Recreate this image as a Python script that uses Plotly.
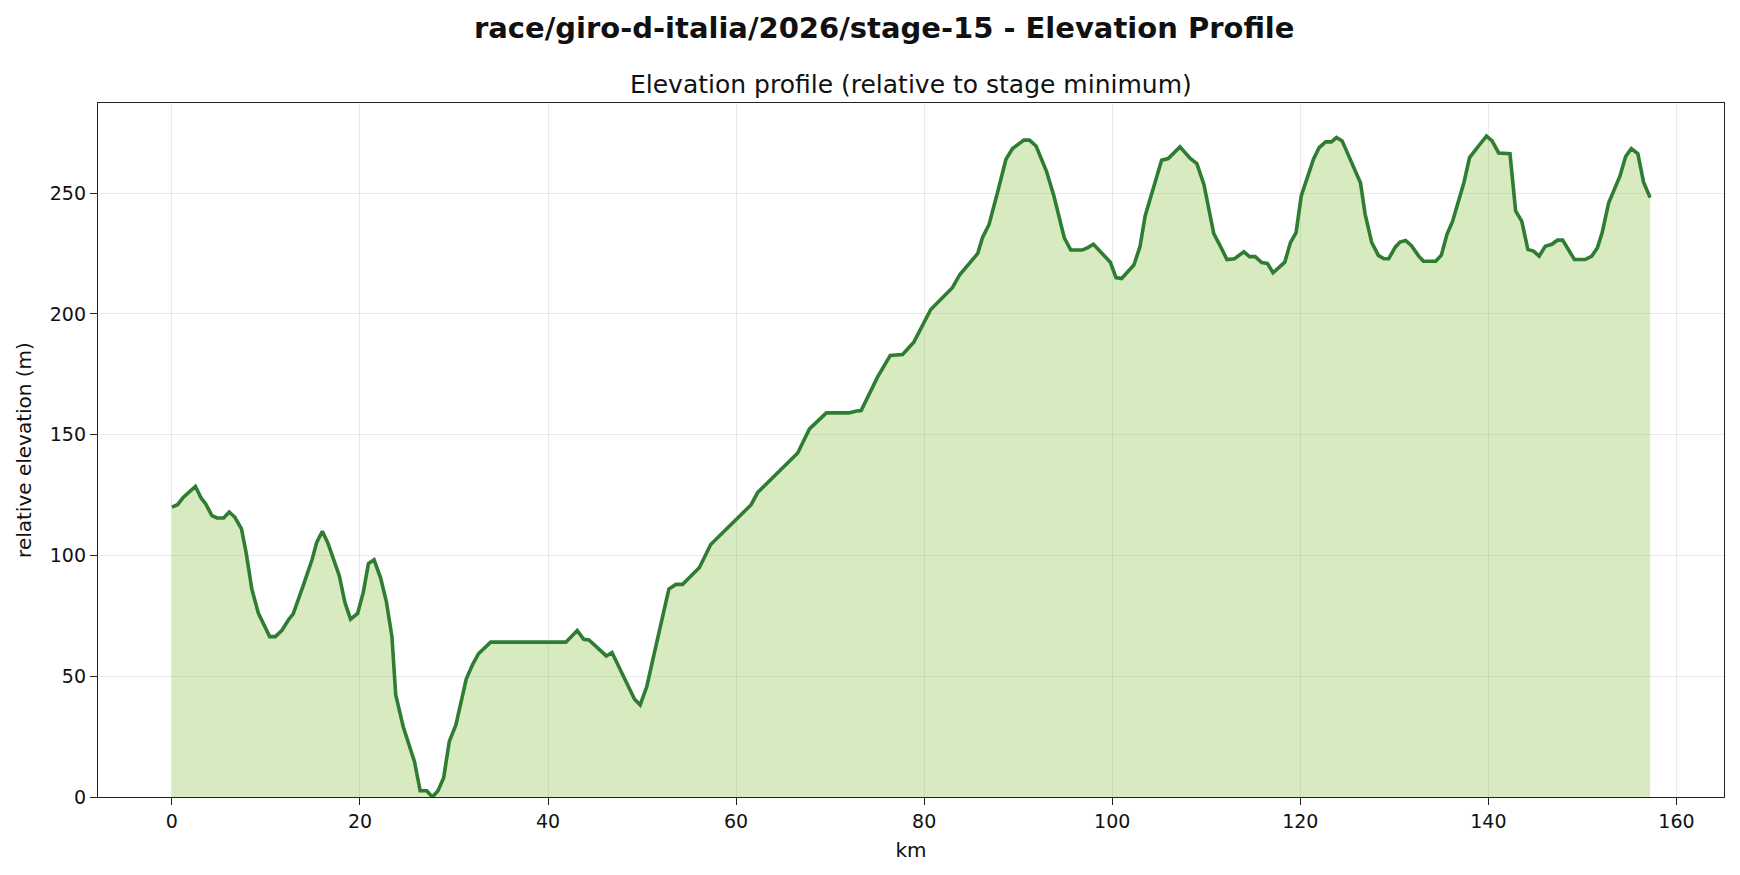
import plotly.graph_objects as go

km = [0.0, 0.6, 1.2, 2.5, 3.1, 3.6, 4.25, 4.8, 5.5, 6.1, 6.7, 7.4, 7.9, 8.5, 9.2, 10.4, 11.0, 11.7, 12.4, 12.9,
      14.0, 14.9, 15.4, 16.0, 16.6, 17.8, 18.4, 19.0, 19.75, 20.35, 20.9, 21.5, 22.2, 22.8, 23.4, 23.8, 24.6,
      25.8, 26.4, 27.1, 27.7, 28.3, 28.9, 29.5, 30.2, 31.3, 32.0, 32.6, 33.9, 41.9, 43.1, 43.8, 44.35, 45.5,
      46.2, 46.8, 49.2, 49.8, 50.5, 51.3, 52.85, 53.6, 54.3, 56.1, 57.3, 61.6, 62.3, 66.55, 67.8, 69.6, 72.0,
      72.7, 73.3, 75.05, 76.4, 77.7, 78.9, 80.7, 81.6, 83.0, 83.8, 84.4, 85.7, 86.2, 86.9, 87.8, 88.7, 89.4,
      90.6, 91.2, 91.9, 93.0, 93.8, 94.9, 95.6, 96.8, 97.4, 98.0, 99.8, 100.4, 101.0, 102.3, 102.95, 103.5,
      104.15, 105.25, 105.95, 107.2, 108.3, 109.0, 109.75, 110.8, 111.5, 112.2, 113.0, 114.0, 114.6, 115.2,
      115.9, 116.5, 117.1, 118.35, 118.95, 119.55, 120.1, 120.7, 121.4, 122.0, 122.7, 123.3, 123.85, 124.45,
      125.6, 126.4, 126.9, 127.6, 128.3, 128.9, 129.4, 130.1, 130.6, 131.2, 131.8, 132.6, 133.1, 134.4, 135.0,
      135.6, 136.2, 136.8, 137.4, 138.0, 138.5, 139.1, 139.8, 140.4, 141.1, 142.3, 142.9, 143.55, 144.2, 144.8,
      145.4, 146.05, 146.75, 147.35, 147.9, 149.15, 150.3, 151.0, 151.6, 152.1, 152.8, 153.4, 154.0, 154.6,
      155.2, 155.9, 156.5, 157.2]

elev = [120, 121, 124, 128.6, 123.8, 121.3, 116.5, 115.5, 115.5, 118, 115.8, 111, 101, 86, 76, 66.4, 66.4, 69,
        73.4, 75.8, 87.9, 98.2, 105.4, 110, 105, 91.6, 80.5, 73.6, 76, 84.7, 96.6, 98.2, 90.6, 81, 66.4, 42.3,
        29.1, 14.6, 2.6, 2.6, 0, 2.6, 8, 23, 29.8, 48.8, 55, 59.3, 64.1, 64.1, 68.9, 65.3, 65.0, 60.9, 58.4,
        59.8, 40.5, 38.1, 45.7, 59.5, 86.1, 88, 88, 95, 104.5, 121, 126.1, 142.4, 152.4, 159, 159, 159.7, 160,
        173.9, 182.8, 183.2, 188.3, 201.8, 205.3, 210.8, 216.3, 219.1, 225, 231.5, 237, 250.2, 264, 268.4,
        271.9, 271.9, 269.5, 259.1, 248.8, 231.5, 226.4, 226.4, 227.4, 228.8, 221.4, 215, 214.6, 220.2, 227.8,
        240.5, 248.8, 263.6, 264.3, 269.1, 264.3, 262.2, 253.6, 233.2, 228, 222.5, 222.8, 225.7, 223.7, 223.7,
        221.2, 220.9, 217, 221.4, 229.5, 233.6, 248.8, 255.7, 264, 268.8, 271.2, 271.2, 273, 271.6, 261.9,
        254.3, 241.2, 229.5, 224.2, 222.8, 222.8, 227.6, 229.7, 230.4, 228.3, 223.9, 221.8, 221.8, 224.3,
        232.9, 238.4, 246, 254.3, 264.7, 267, 270.2, 273.6, 271.6, 266.6, 266.3, 242.6, 238.4, 226.7, 226,
        223.9, 228, 228.8, 230.5, 230.5, 222.5, 222.5, 223.9, 227.4, 233.6, 246, 251.5, 257.1, 265.1, 268.4,
        266.3, 254.6, 248.1]

x_ticks = [0, 20, 40, 60, 80, 100, 120, 140, 160]
y_ticks = [0, 50, 100, 150, 200, 250]

main_title = "race/giro-d-italia/2026/stage-15 - Elevation Profile"
sub_title = "Elevation profile (relative to stage minimum)"
x_title = "km"
y_title = "relative elevation (m)"

FONT = "DejaVu Sans"

fig = go.Figure()
fig.add_trace(go.Scatter(x=km, y=elev, mode="lines", fill="tozeroy",
                         fillcolor="rgba(139,195,74,0.35)", line=dict(width=0),
                         hoverinfo="skip", showlegend=False))
fig.add_trace(go.Scatter(x=km, y=elev, mode="lines",
                         line=dict(color="#2e7d32", width=3.6), showlegend=False))

xmax = max(km)
ymax = max(elev)
axis_common = dict(showline=True, linecolor="#222222", linewidth=1.4, mirror=True,
                   ticks="outside", ticklen=7, tickwidth=1.3, tickcolor="#222222",
                   showgrid=True, gridcolor="rgba(0,0,0,0.085)", gridwidth=1.3,
                   zeroline=False, tickfont=dict(family=FONT, size=19, color="#111111"))

fig.update_layout(
    width=1740, height=875,
    paper_bgcolor="white", plot_bgcolor="white",
    margin=dict(l=98, r=16, t=103, b=78),
    font=dict(family=FONT, color="#111111"),
    xaxis=dict(range=[-0.05 * xmax, 1.05 * xmax], tickvals=x_ticks,
               title=dict(text=x_title, font=dict(family=FONT, size=20), standoff=11), **axis_common),
    yaxis=dict(range=[0, 1.05 * ymax], tickvals=y_ticks,
               title=dict(text=y_title, font=dict(family=FONT, size=20), standoff=12), **axis_common),
    annotations=[
        dict(text="<b>" + main_title + "</b>", xref="paper", yref="paper", x=0.4836, y=1.108,
             xanchor="center", yanchor="middle", showarrow=False,
             font=dict(family=FONT, size=29, color="#111111")),
        dict(text=sub_title, xref="paper", yref="paper", x=0.5, y=1.026,
             xanchor="center", yanchor="middle", showarrow=False,
             font=dict(family=FONT, size=25, color="#111111")),
    ],
)

fig.write_html("out.html")
